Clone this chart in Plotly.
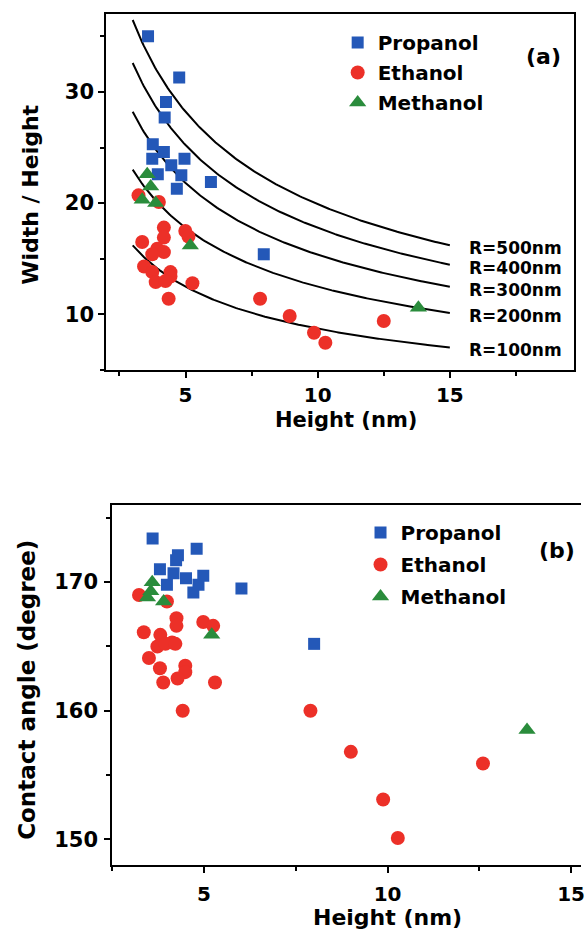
import numpy as np
import plotly.graph_objects as go

# ---- panel (a): width/height ratio vs island height ----
prop_h_a = [3.58, 4.76, 4.26, 4.21, 3.76, 4.18, 3.74, 4.96, 4.46, 3.95, 4.84, 4.67, 5.96, 7.96]
prop_r_a = [35.0, 31.3, 29.1, 27.7, 25.3, 24.6, 24.0, 24.0, 23.4, 22.6, 22.5, 21.3, 21.9, 15.4]

eth_h_a = [3.22, 3.99, 4.18, 4.18, 4.99, 5.11, 3.36, 3.93, 4.18, 3.74, 3.43, 3.74,
           4.43, 4.43, 3.87, 4.24, 5.26, 4.36, 7.82, 8.94, 9.86, 10.29, 12.5]
eth_r_a = [20.7, 20.1, 17.8, 16.9, 17.5, 17.0, 16.5, 15.9, 15.6, 15.4, 14.3, 13.8,
           13.8, 13.4, 12.9, 13.0, 12.8, 11.4, 11.4, 9.85, 8.35, 7.45, 9.4]

meth_h_a = [3.55, 3.68, 3.36, 3.87, 5.18, 13.81]
meth_r_a = [22.6, 21.5, 20.3, 20.0, 16.2, 10.6]

# spherical-cap radii for the reference curves (nm)
radii = [500, 400, 300, 200, 100]
curve_h = [3.0, 15.0]  # height span of the curves (nm)

# ---- panel (b): contact angle vs island height ----
prop_h_b = [3.60, 4.80, 4.29, 4.24, 3.80, 4.17, 4.51, 4.98, 3.99, 4.71, 4.85, 6.02, 8.0]
prop_ca_b = [173.4, 172.6, 172.1, 171.7, 171.0, 170.7, 170.3, 170.5, 169.8, 169.2, 169.8, 169.5, 165.2]

eth_h_b = [3.23, 3.99, 4.25, 4.25, 4.98, 5.25, 3.36, 3.81, 4.13, 3.73, 3.50, 3.95, 4.22,
           3.80, 4.49, 4.49, 4.28, 3.89, 5.30, 4.42, 7.90, 9.0, 9.88, 10.28, 12.6]
eth_ca_b = [169.0, 168.5, 167.2, 166.6, 166.9, 166.6, 166.1, 165.9, 165.3, 165.0, 164.1, 165.2, 165.2,
            163.3, 163.5, 163.0, 162.5, 162.2, 162.2, 160.0, 160.0, 156.8, 153.1, 150.1, 155.9]

meth_h_b = [3.59, 3.55, 3.46, 3.90, 5.21, 13.8]
meth_ca_b = [170.0, 169.3, 168.8, 168.5, 165.9, 158.5]

x_ticks = [5, 10, 15]
y_ticks_a = [10, 20, 30]
y_ticks_b = [150, 160, 170]

BLUE = "#2458b8"
RED = "#ec3028"
GREEN = "#2a8c3c"
FONT = "DejaVu Sans"

W, H = 585, 931


def px_x(px):
    return px / W


def px_y(py):
    return 1 - py / H


def bold(size):
    return dict(family=FONT, size=size, color="black", weight="bold")


fig = go.Figure()

# reference curves: W/H = 2*sqrt(2R/h - 1) for a spherical cap of radius R
hh = np.linspace(curve_h[0], curve_h[1], 200)
for R in radii:
    ratio = 2 * np.sqrt(2 * R / hh - 1)
    fig.add_trace(go.Scatter(x=hh, y=ratio, mode="lines", line=dict(color="black", width=2),
                             showlegend=False, hoverinfo="skip", xaxis="x", yaxis="y"))
    fig.add_annotation(x=curve_h[1], y=ratio[-1], xref="x", yref="y", text=f"R={R}nm",
                       showarrow=False, xanchor="left", yanchor="middle", xshift=17, yshift=-3,
                       font=bold(17))

sq = dict(symbol="square", size=12, color=BLUE)
ci = dict(symbol="circle", size=14, color=RED)
tr = dict(symbol="triangle-up", size=15, color=GREEN)

series = [("Propanol", sq), ("Ethanol", ci), ("Methanol", tr)]
panel_a = [(prop_h_a, prop_r_a), (eth_h_a, eth_r_a), (meth_h_a, meth_r_a)]
panel_b = [(prop_h_b, prop_ca_b), (eth_h_b, eth_ca_b), (meth_h_b, meth_ca_b)]

for (name, mk), (xs, ys) in zip(series, panel_a):
    fig.add_trace(go.Scatter(x=xs, y=ys, mode="markers", marker=mk, name=name, legendgroup=name + "a",
                             xaxis="x", yaxis="y", legend="legend"))
for (name, mk), (xs, ys) in zip(series, panel_b):
    fig.add_trace(go.Scatter(x=xs, y=ys, mode="markers", marker=mk, name=name, legendgroup=name + "b",
                             xaxis="x2", yaxis="y2", legend="legend2"))

common = dict(showgrid=False, zeroline=False, showline=True, linecolor="black", linewidth=2,
              ticks="outside", ticklen=6, tickwidth=2, tickcolor="black")
minor_x = dict(dtick=2.5, tick0=0, ticks="outside", ticklen=4, tickwidth=2, tickcolor="black")
minor_y = dict(dtick=5, tick0=0, ticks="outside", ticklen=4, tickwidth=2, tickcolor="black")

fig.update_layout(
    width=W, height=H,
    margin=dict(l=0, r=0, t=0, b=0),
    paper_bgcolor="white", plot_bgcolor="white",
    xaxis=dict(domain=[px_x(107), px_x(578)], range=[2, 19.7], tickvals=x_ticks, mirror=True,
               minor=minor_x, tickfont=bold(20), anchor="y", **common),
    yaxis=dict(domain=[px_y(370), px_y(14)], range=[5, 37], tickvals=y_ticks_a, mirror=True,
               minor=minor_y, tickfont=bold(21), ticklabelstandoff=0, anchor="x", **common),
    xaxis2=dict(domain=[px_x(113), 1.0], range=[2.5, 15.27], tickvals=x_ticks, mirror=True,
                minor=minor_x, tickfont=bold(20), ticklabelstandoff=4, ticklabeloverflow="allow",
                anchor="y2", **common),
    yaxis2=dict(domain=[px_y(865), px_y(505)], range=[148, 176], tickvals=y_ticks_b,
                minor=minor_y, tickfont=bold(21), ticklabelstandoff=2, anchor="x2", **common),
    legend=dict(x=px_x(340), y=px_y(23), xanchor="left", yanchor="top", bgcolor="rgba(0,0,0,0)",
                font=bold(20), tracegroupgap=1, traceorder="grouped"),
    legend2=dict(x=px_x(363), y=px_y(513), xanchor="left", yanchor="top", bgcolor="rgba(0,0,0,0)",
                 font=bold(20), tracegroupgap=3, traceorder="grouped"),
    showlegend=True,
)

# axis titles and panel tags
texts = [
    ("Width / Height", 30, 195, -90, 22),
    ("Height (nm)", 348, 420, 0, 21),
    ("Contact angle (degree)", 27, 690, -90, 23),
    ("Height (nm)", 390, 917, 0, 22),
    ("(a)", 547, 56, 0, 22),
    ("(b)", 561, 550, 0, 22),
]
for txt, cx, cy, ang, size in texts:
    fig.add_annotation(x=px_x(cx), y=px_y(cy), xref="paper", yref="paper", text=txt, showarrow=False,
                       xanchor="center", yanchor="middle", textangle=ang, font=bold(size))

fig.write_html("out.html")
